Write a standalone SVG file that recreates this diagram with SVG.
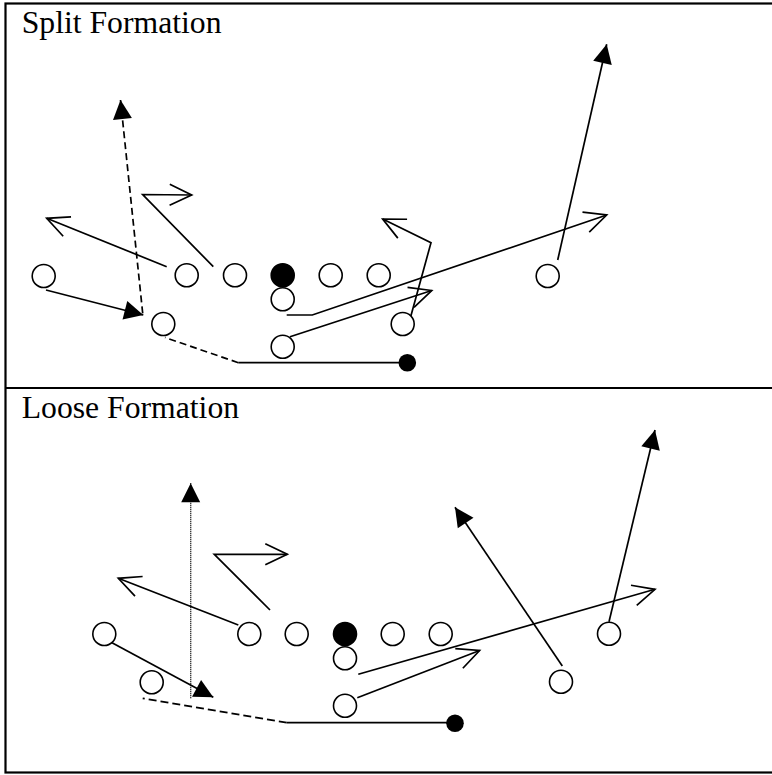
<svg xmlns="http://www.w3.org/2000/svg" width="772" height="775" viewBox="0 0 772 775">
<style>
  .frame { fill: none; stroke: #000; stroke-width: 2.2; }
  .title { font-family: "Liberation Serif", "Times New Roman", serif; font-size: 31.7px; fill: #000; }
  .p { fill: #fff; stroke: #000; stroke-width: 1.6; }
  .pf { fill: #000; stroke: #000; stroke-width: 1.6; }
  .ball { fill: #000; }
  .r { fill: none; stroke: #000; stroke-width: 1.7; stroke-linejoin: miter; }
  .dash { stroke-dasharray: 7 4; }
  .dot { stroke-width: 1.4; stroke-dasharray: 1 1; }
  .af { marker-end: url(#filled); }
  .ao { marker-end: url(#open); }
</style>
<defs>
  <marker id="filled" markerUnits="userSpaceOnUse" markerWidth="22" markerHeight="22" refX="19" refY="9.5" orient="auto" overflow="visible">
    <path d="M0,0 L19,9.5 L0,19 Z" fill="#000"/>
  </marker>
  <marker id="open" markerUnits="userSpaceOnUse" markerWidth="26" markerHeight="26" refX="22" refY="10.5" orient="auto" overflow="visible">
    <path d="M0,0 L22,10.5 L0,21" fill="none" stroke="#000" stroke-width="1.7"/>
  </marker>
</defs>

<g id="frame">
  <rect class="frame" x="5.5" y="3.5" width="775" height="769"/>
  <line class="frame" x1="5.5" y1="388" x2="775" y2="388"/>
</g>

<g id="title-split"><text class="title" x="21.7" y="33">Split Formation</text></g>
<g id="title-loose"><text class="title" x="21.7" y="418">Loose Formation</text></g>

<g id="connectors">
  <!-- Split formation -->
  <line class="r af" x1="46" y1="290" x2="143.3" y2="315"/>
  <line class="r dash af" x1="142.7" y1="313.3" x2="120.5" y2="100"/>
  <line class="r ao" x1="166.7" y1="266.7" x2="46.7" y2="218.3"/>
  <polyline class="r ao" points="213.3,266.7 142.7,194.5 191.7,195"/>
  <polyline class="r ao" points="286.7,315 312.3,315 606.7,215"/>
  <line class="r ao" x1="290" y1="336.7" x2="431.7" y2="290.5"/>
  <polyline class="r ao" points="409.3,321.7 431,242.7 382.7,219"/>
  <line class="r af" x1="557.7" y1="260" x2="606.7" y2="44.3"/>
  <line class="r" x1="407" y1="362.7" x2="238.3" y2="362.7"/>
  <line class="r dash" x1="238.3" y1="362.7" x2="165" y2="337.5"/>

  <!-- Loose formation -->
  <line class="r af" x1="102.7" y1="637.7" x2="213.3" y2="697.3"/>
  <line class="r dot af" x1="190.7" y1="698.3" x2="190.7" y2="483.3"/>
  <line class="r ao" x1="238.3" y1="625" x2="118.3" y2="578.3"/>
  <polyline class="r ao" points="270,610 214.3,554.3 287.3,554.3"/>
  <line class="r ao" x1="358.3" y1="674.3" x2="655" y2="589.3"/>
  <line class="r ao" x1="357.3" y1="697.7" x2="479.6" y2="650.5"/>
  <line class="r af" x1="562.3" y1="666" x2="455" y2="507.3"/>
  <line class="r af" x1="609" y1="621.7" x2="655" y2="430"/>
  <line class="r" x1="455" y1="722.7" x2="286.7" y2="722.7"/>
  <line class="r dash" x1="286.7" y1="722.7" x2="142.7" y2="698.3" style="stroke-dasharray:8 4"/>
</g>

<!-- Split formation players -->
<g id="s-wr-left"><circle class="p" cx="43.7" cy="276" r="11.5"/></g>
<g id="s-te"><circle class="p" cx="186.7" cy="275.3" r="11.5"/></g>
<g id="s-lt"><circle class="p" cx="235" cy="275.3" r="11.5"/></g>
<g id="s-center"><circle class="pf" cx="282.7" cy="275.3" r="11.5"/></g>
<g id="s-rg"><circle class="p" cx="330.7" cy="275.3" r="11.5"/></g>
<g id="s-rt"><circle class="p" cx="378.7" cy="275.3" r="11.5"/></g>
<g id="s-qb"><circle class="p" cx="282.7" cy="299.3" r="11.5"/></g>
<g id="s-back-left"><circle class="p" cx="163.3" cy="324" r="11.5"/></g>
<g id="s-back-mid"><circle class="p" cx="282.7" cy="346.7" r="11.5"/></g>
<g id="s-back-right"><circle class="p" cx="402.7" cy="324" r="11.5"/></g>
<g id="s-wr-right"><circle class="p" cx="547.7" cy="276" r="11.5"/></g>
<g id="s-ball"><circle class="ball" cx="407.3" cy="362.7" r="8.8"/></g>

<!-- Loose formation players -->
<g id="l-wr-left"><circle class="p" cx="104.3" cy="634" r="11.5"/></g>
<g id="l-back-left"><circle class="p" cx="151.7" cy="682.3" r="11.5"/></g>
<g id="l-te"><circle class="p" cx="249.3" cy="634" r="11.5"/></g>
<g id="l-lt"><circle class="p" cx="296.7" cy="634" r="11.5"/></g>
<g id="l-center"><circle class="pf" cx="345" cy="634" r="11.5"/></g>
<g id="l-rg"><circle class="p" cx="392.7" cy="634" r="11.5"/></g>
<g id="l-rt"><circle class="p" cx="440.7" cy="634" r="11.5"/></g>
<g id="l-qb"><circle class="p" cx="345" cy="658.3" r="11.5"/></g>
<g id="l-back-mid"><circle class="p" cx="345" cy="705.7" r="11.5"/></g>
<g id="l-slot"><circle class="p" cx="561" cy="681.7" r="11.5"/></g>
<g id="l-wr-right"><circle class="p" cx="609" cy="633.7" r="11.5"/></g>
<g id="l-ball"><circle class="ball" cx="455" cy="723.3" r="8.8"/></g>
</svg>
